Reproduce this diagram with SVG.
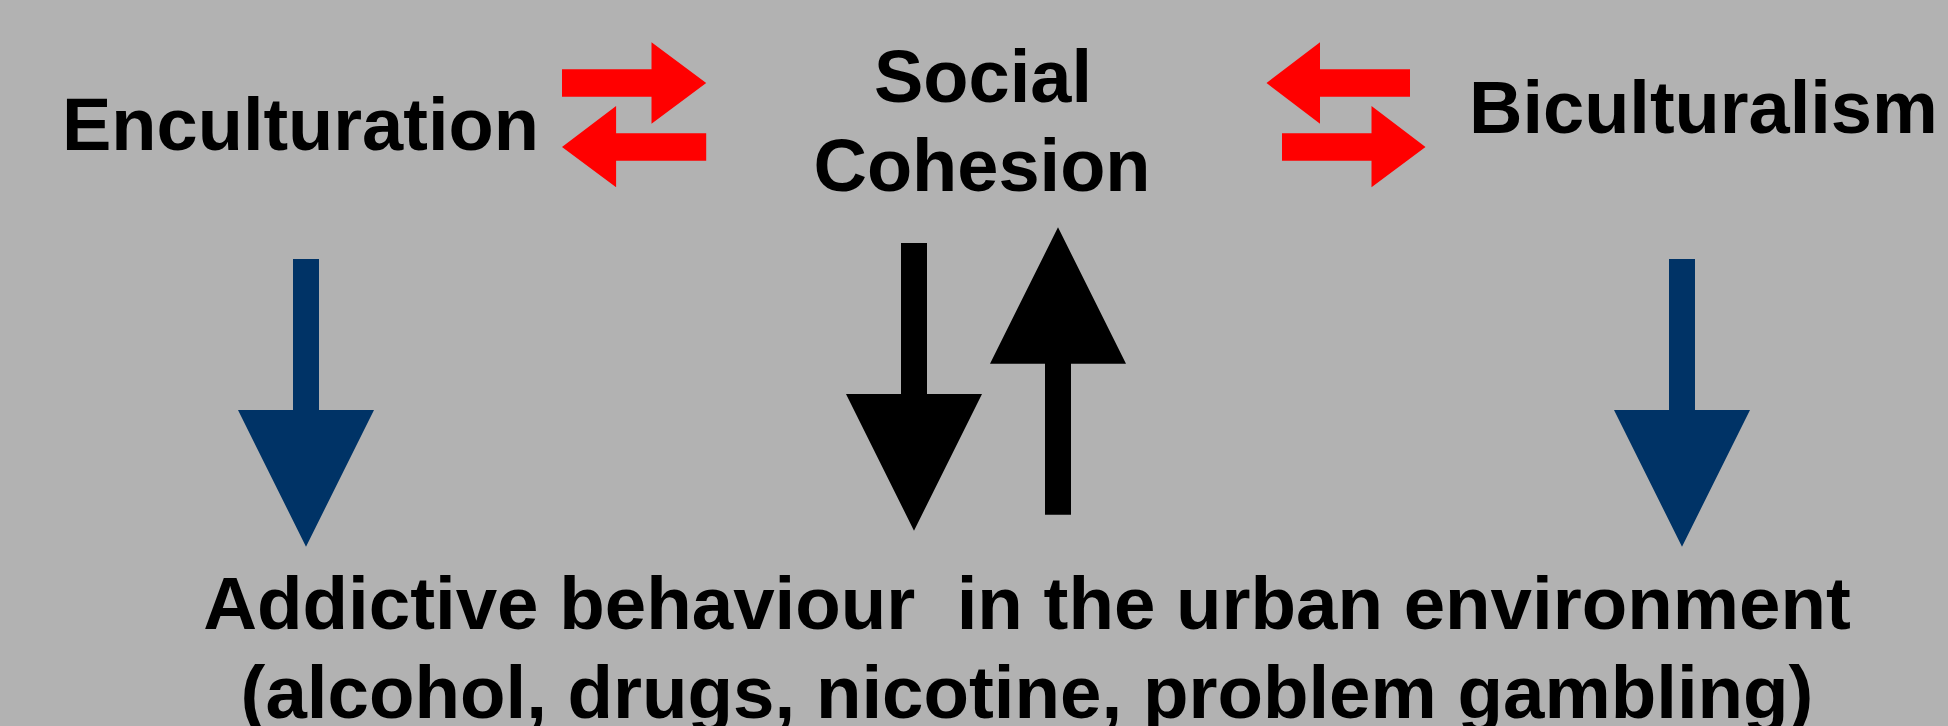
<svg xmlns="http://www.w3.org/2000/svg" width="1948" height="726" viewBox="0 0 1948 726">
<style>
.t{font-family:"Liberation Sans",Arial,sans-serif;font-weight:bold;font-size:74px;fill:#000}
.tb{font-size:74.5px}
.red{fill:#ff0000}
.blue{fill:#003366}
.blk{fill:#000}
</style>
<rect width="1948" height="726" fill="#b2b2b2"/>
<g id="enculturation"><text class="t" x="62" y="150">Enculturation</text></g>
<g id="social-cohesion"><text class="t" x="983" y="101.7" text-anchor="middle">Social</text><text class="t" x="982" y="191" text-anchor="middle">Cohesion</text></g>
<g id="biculturalism"><text class="t" x="1469" y="133.3">Biculturalism</text></g>
<g id="addictive-behaviour"><text class="t tb" x="1027" y="629.3" text-anchor="middle" xml:space="preserve">Addictive behaviour  in the urban environment</text><text class="t tb" x="1027" y="718" text-anchor="middle">(alcohol, drugs, nicotine, problem gambling)</text></g>
<g id="connectors">
<polygon class="red" points="562,69.3 651.5,69.3 651.5,42.3 706.2,83 651.5,123.7 651.5,96.7 562,96.7"/>
<polygon class="red" points="706.2,133.3 616.1,133.3 616.1,106 562,147 616.1,187.3 616.1,160.7 706.2,160.7"/>
<polygon class="red" points="1410,69.3 1320,69.3 1320,42.3 1266.5,83 1320,123.7 1320,96.7 1410,96.7"/>
<polygon class="red" points="1282,133.3 1371.5,133.3 1371.5,106 1425.5,147 1371.5,187.3 1371.5,160.7 1282,160.7"/>
<polygon class="blue" points="293,259 319,259 319,410 374,410 306,546.7 238,410 293,410"/>
<polygon class="blue" points="1669,259 1695,259 1695,410 1750,410 1682,546.7 1614,410 1669,410"/>
<polygon class="blk" points="901,243 927,243 927,394 982,394 914,530.7 846,394 901,394"/>
<polygon class="blk" points="1045,514.7 1071,514.7 1071,363.7 1126,363.7 1058,227.3 990,363.7 1045,363.7"/>
</g>
</svg>
